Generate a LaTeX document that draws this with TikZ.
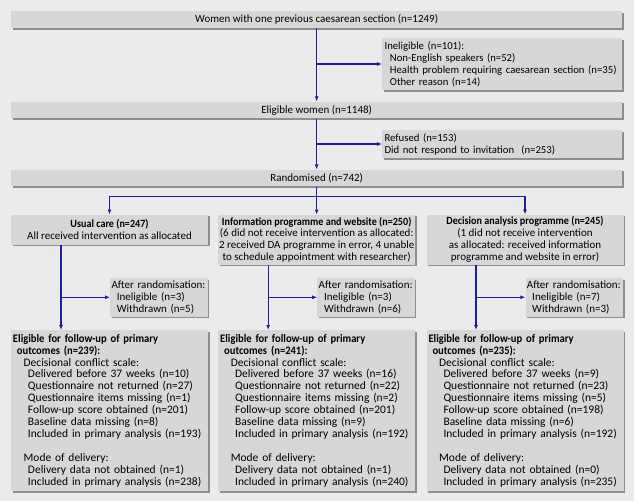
\documentclass[tikz,border=0pt]{standalone}
\usepackage{fontspec}
\setmainfont{Carlito}[BoldFeatures={FakeStretch=0.92}]
\usetikzlibrary{arrows.meta,shadows}
\definecolor{pagegray}{HTML}{EBEBEB}
\definecolor{boxgray}{HTML}{D7D7D7}
\definecolor{rimgray}{HTML}{8E8E8E}
\definecolor{flowblue}{RGB}{30,30,160}
\begin{document}
\begin{tikzpicture}[
    font=\fontsize{9.4}{10.2}\selectfont,
    box/.style={fill=boxgray, inner sep=0pt,
      drop shadow={shadow xshift=0.05cm, shadow yshift=-0.05cm,
        fill=rimgray, opacity=1}},
    wide/.style={box, minimum width=18.33cm, minimum height=0.5cm},
    side/.style={box, anchor=west, align=left, inner xsep=0.07cm,
      text width=7.06cm, font=\fontsize{9.15}{10.2}\selectfont},
    col/.style={box, anchor=north, align=center, minimum width=5.91cm},
    after/.style={box, anchor=west, align=left, inner xsep=0.04cm,
      text width=2.84cm, minimum height=1.155cm},
    follow/.style={box, anchor=north, align=left, inner xsep=0.06cm,
      text width=5.79cm, minimum height=4.83cm,
      font=\fontsize{9.8}{10.2}\selectfont},
    arrow/.style={-{Latex[length=1.5mm,width=1.2mm]}, line width=0.035cm,
      flowblue}
  ]
  \fill[pagegray] (0,0) rectangle (19.02,-15.03);
  \useasboundingbox (0,0) rectangle (19.02,-15.03);
  %---- recruitment ----
  \node[wide] (women) at (9.5,-0.585)
    {Women with one previous caesarean section (n=1249)};
  \node[side, minimum height=1.56cm] (inel) at (11.46,-1.92)
    {Ineligible (n=101):\\
     \hspace*{0.16cm}Non-English speakers (n=52)\\
     \hspace*{0.16cm}\mbox{Health problem requiring caesarean section (n=35)}\\
     \hspace*{0.16cm}Other reason (n=14)};
  \node[wide] (elig) at (9.5,-3.3) {Eligible women (n=1148)};
  \node[side, minimum height=0.84cm] (refused) at (11.46,-4.32)
    {Refused (n=153)\\Did not respond to invitation~ (n=253)};
  \node[wide] (rand) at (9.5,-5.34) {Randomised (n=742)};
  \draw[arrow] (women) -- (elig);
  \draw[arrow] (women.south |- inel.west) -- (inel.west);
  \draw[arrow] (elig) -- (rand);
  \draw[arrow] (elig.south |- refused.west) -- (refused.west);
  %---- allocation ----
  \coordinate (split) at (9.5,-5.9);
  \node[col, minimum height=0.9cm] (usual) at (3.285,-6.435)
    {\textbf{Usual care (n=247)}\\All received intervention as allocated};
  \node[col, minimum height=1.5cm] (info) at (9.5,-6.435)
    {\textbf{Information programme and website (n=250)}\\
     (6 did not receive intervention as allocated:\\
     2 received DA programme in error, 4 unable\\
     to schedule appointment with researcher)};
  \node[col, minimum height=1.5cm] (dec) at (15.75,-6.435)
    {\textbf{Decision analysis programme (n=245)}\\
     (1 did not receive intervention\\
     as allocated: received information\\
     programme and website in error)};
  \draw[arrow] (rand) -- (info);
  \draw[arrow] (split) -| (usual.north);
  \draw[arrow] (split) -| (dec.north);
  %---- after randomisation ----
  \coordinate (ubr) at (1.83,-8.9175);
  \coordinate (ibr) at (8.045,-8.9175);
  \coordinate (dbr) at (14.28,-8.9175);
  \node[after] (uaft) at (3.30,-8.9175)
    {After randomisation:\\\hspace*{0.16cm}Ineligible (n=3)\\\hspace*{0.16cm}Withdrawn (n=5)};
  \node[after] (iaft) at (9.515,-8.9175)
    {After randomisation:\\\hspace*{0.16cm}Ineligible (n=3)\\\hspace*{0.16cm}Withdrawn (n=6)};
  \node[after] (daft) at (15.76,-8.9175)
    {After randomisation:\\\hspace*{0.16cm}Ineligible (n=7)\\\hspace*{0.16cm}Withdrawn (n=3)};
  %---- follow-up ----
  \node[follow] (ufol) at (3.285,-9.9)
    {\textbf{Eligible for follow-up of primary}\\
     \hspace*{0.12cm}\textbf{outcomes (n=239):}\\
     \hspace*{0.32cm}Decisional conflict scale:\\
     \hspace*{0.45cm}Delivered before 37 weeks (n=10)\\
     \hspace*{0.45cm}Questionnaire not returned (n=27)\\
     \hspace*{0.45cm}Questionnaire items missing (n=1)\\
     \hspace*{0.45cm}Follow-up score obtained (n=201)\\
     \hspace*{0.45cm}Baseline data missing (n=8)\\
     \hspace*{0.45cm}Included in primary analysis (n=193)\\[10.2pt]
     \hspace*{0.32cm}Mode of delivery:\\
     \hspace*{0.45cm}Delivery data not obtained (n=1)\\
     \hspace*{0.45cm}Included in primary analysis (n=238)};
  \node[follow] (ifol) at (9.5,-9.9)
    {\textbf{Eligible for follow-up of primary}\\
     \hspace*{0.12cm}\textbf{outcomes (n=241):}\\
     \hspace*{0.32cm}Decisional conflict scale:\\
     \hspace*{0.45cm}Delivered before 37 weeks (n=16)\\
     \hspace*{0.45cm}Questionnaire not returned (n=22)\\
     \hspace*{0.45cm}Questionnaire items missing (n=2)\\
     \hspace*{0.45cm}Follow-up score obtained (n=201)\\
     \hspace*{0.45cm}Baseline data missing (n=9)\\
     \hspace*{0.45cm}Included in primary analysis (n=192)\\[10.2pt]
     \hspace*{0.32cm}Mode of delivery:\\
     \hspace*{0.45cm}Delivery data not obtained (n=1)\\
     \hspace*{0.45cm}Included in primary analysis (n=240)};
  \node[follow] (dfol) at (15.75,-9.9)
    {\textbf{Eligible for follow-up of primary}\\
     \hspace*{0.12cm}\textbf{outcomes (n=235):}\\
     \hspace*{0.32cm}Decisional conflict scale:\\
     \hspace*{0.45cm}Delivered before 37 weeks (n=9)\\
     \hspace*{0.45cm}Questionnaire not returned (n=23)\\
     \hspace*{0.45cm}Questionnaire items missing (n=5)\\
     \hspace*{0.45cm}Follow-up score obtained (n=198)\\
     \hspace*{0.45cm}Baseline data missing (n=6)\\
     \hspace*{0.45cm}Included in primary analysis (n=192)\\[10.2pt]
     \hspace*{0.32cm}Mode of delivery:\\
     \hspace*{0.45cm}Delivery data not obtained (n=0)\\
     \hspace*{0.45cm}Included in primary analysis (n=235)};
  \draw[arrow] (usual.south -| ubr) -- (ufol.north -| ubr);
  \draw[arrow] (info.south -| ibr) -- (ifol.north -| ibr);
  \draw[arrow] (dec.south -| dbr) -- (dfol.north -| dbr);
  \draw[arrow] (ubr) -- (uaft);
  \draw[arrow] (ibr) -- (iaft);
  \draw[arrow] (dbr) -- (daft);
\end{tikzpicture}
\end{document}
